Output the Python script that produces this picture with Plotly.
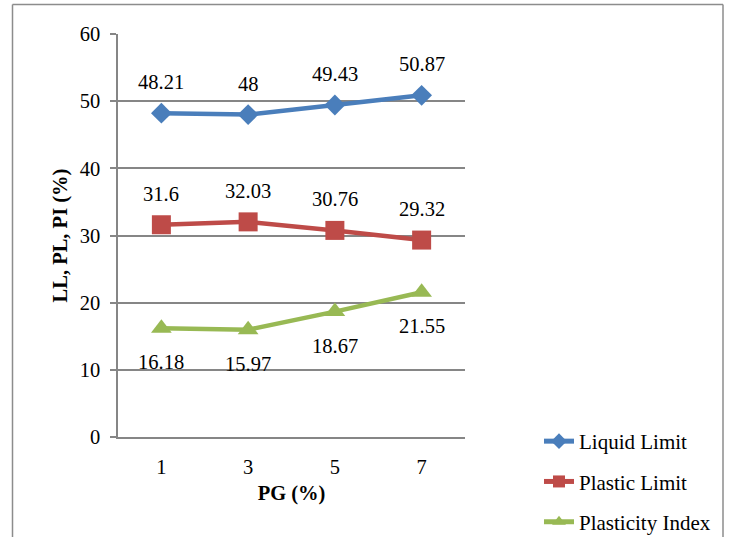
import plotly.graph_objects as go

categories = ["1", "3", "5", "7"]
liquid_limit = [48.21, 48, 49.43, 50.87]
plastic_limit = [31.6, 32.03, 30.76, 29.32]
plasticity_index = [16.18, 15.97, 18.67, 21.55]
series_names = ["Liquid Limit", "Plastic Limit", "Plasticity Index"]
y_ticks = [0, 10, 20, 30, 40, 50, 60]

FONT = "Liberation Serif"
FS = 20.5
colors = ["#4A7EBB", "#BE4B48", "#98B954"]
symbols = ["diamond", "square", "triangle-up"]
msizes = [16, 19, 18]
label_shift = [31, 31, -34]

fig = go.Figure()
all_series = [liquid_limit, plastic_limit, plasticity_index]
for i, (name, vals) in enumerate(zip(series_names, all_series)):
    fig.add_trace(go.Scatter(
        x=categories, y=vals, name=name, mode="lines+markers",
        line=dict(color=colors[i], width=4.5),
        marker=dict(symbol=symbols[i], size=msizes[i], color=colors[i]),
        legendgroup=name,
    ))
    for j, v in enumerate(vals):
        fig.add_annotation(x=j, y=v, text=f"{v:g}", showarrow=False,
                           yshift=label_shift[i],
                           font=dict(family=FONT, size=FS, color="black"))

# outer frame (left, top, right)
L, R, T, B = 118, 465, 34, 437
W = R - L
H = B - T
def px_x(p):
    return (p - L) / W
def px_y(p):
    return (B - p) / H
frame = dict(color="#8C8C8C", width=1.5)
fig.add_shape(type="line", xref="paper", yref="paper", x0=px_x(12.5), x1=px_x(12.5), y0=px_y(540), y1=px_y(4.5), line=frame)
fig.add_shape(type="line", xref="paper", yref="paper", x0=px_x(12.5), x1=px_x(723), y0=px_y(4.5), y1=px_y(4.5), line=frame)
fig.add_shape(type="line", xref="paper", yref="paper", x0=px_x(723), x1=px_x(723), y0=px_y(4.5), y1=px_y(540), line=frame)

fig.update_layout(
    width=729, height=537,
    margin=dict(l=L, r=729 - R, t=T, b=537 - B, pad=0, autoexpand=False),
    paper_bgcolor="white", plot_bgcolor="white",
    font=dict(family=FONT, size=FS, color="black"),
    showlegend=True,
    legend=dict(x=px_x(539), y=px_y(421), xanchor="left", yanchor="top",
                font=dict(family=FONT, size=21, color="black"),
                tracegroupgap=10, itemsizing="constant",
                bgcolor="rgba(0,0,0,0)"),
    xaxis=dict(type="category", range=[-0.5, 3.5], showgrid=False,
               showline=True, linecolor="#868686", linewidth=1.5,
               ticks="", ticklabelstandoff=11, automargin=False,
               title=dict(text="<b>PG (%)</b>", standoff=8,
                          font=dict(family=FONT, size=FS))),
    yaxis=dict(range=[0, 60], tickvals=y_ticks, showgrid=True,
               gridcolor="#868686", gridwidth=1.5, automargin=False,
               showline=True, linecolor="#868686", linewidth=1.5,
               ticks="outside", ticklen=6, tickcolor="#868686", tickwidth=1.5,
               ticklabelstandoff=6, zeroline=False,
               title=dict(text="<b>LL, PL, PI (%)</b>", standoff=6,
                          font=dict(family=FONT, size=FS))),
)

fig.write_html("out.html", config={"displayModeBar": False},
               post_script="document.body.style.margin='0';document.body.style.overflow='hidden';")
